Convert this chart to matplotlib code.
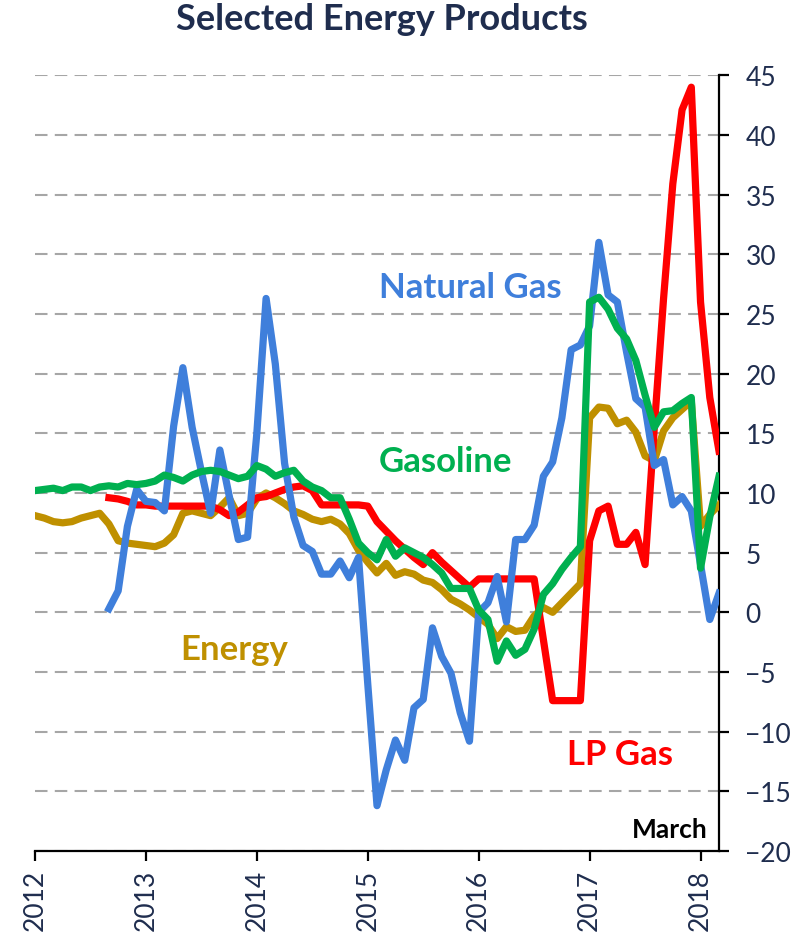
import numpy as np
import matplotlib.pyplot as plt

nan = np.nan

# monthly % change, Jan 2012 .. Mar 2018
years = [2012, 2013, 2014, 2015, 2016, 2017, 2018]

energy = [8.1, 7.9, 7.6, 7.5, 7.6, 7.9, 8.1, 8.3, 7.4, 6.0, 5.8, 5.7,
          5.6, 5.5, 5.8, 6.5, 8.3, 8.5, 8.3, 8.1, 8.8, 9.6, 8.1, 8.3,
          9.5, 10.0, 9.6, 9.1, 8.5, 8.2, 7.8, 7.6, 7.8, 7.4, 6.6, 5.2,
          4.2, 3.3, 4.1, 3.1, 3.4, 3.2, 2.7, 2.5, 1.9, 1.1, 0.7, 0.2,
          -0.4, -1.0, -2.2, -1.2, -1.6, -1.5, -0.3, 0.4, 0.0, 0.8, 1.6, 2.4,
          16.3, 17.2, 17.1, 15.8, 16.1, 15.1, 13.1, 12.7, 15.2, 16.3, 17.0, 17.7,
          7.2, 8.2, 9.0]

gasoline = [10.2, 10.3, 10.4, 10.2, 10.5, 10.5, 10.2, 10.5, 10.6, 10.5, 10.8, 10.7,
            10.8, 11.0, 11.5, 11.3, 11.0, 11.5, 11.8, 11.9, 11.8, 11.5, 11.2, 11.4,
            12.3, 12.0, 11.4, 11.7, 11.9, 11.0, 10.5, 10.2, 9.6, 9.6, 7.8, 5.8,
            5.0, 4.4, 6.1, 4.7, 5.4, 5.0, 4.6, 4.0, 3.3, 2.0, 2.0, 2.0,
            0.2, -0.6, -4.1, -2.4, -3.6, -3.1, -1.4, 1.5, 2.4, 3.6, 4.6, 5.5,
            26.0, 26.4, 25.4, 23.8, 22.9, 21.1, 18.2, 15.5, 16.8, 16.9, 17.5, 18.0,
            3.7, 8.0, 11.4]

natural_gas = [nan, nan, nan, nan, nan, nan, nan, nan, 0.3, 1.8, 7.2, 10.3,
               9.3, 9.2, 8.5, 15.6, 20.5, 15.5, 11.8, 8.3, 13.6, 9.8, 6.1, 6.3,
               15.0, 26.3, 20.8, 12.5, 8.0, 5.6, 5.1, 3.2, 3.2, 4.3, 2.9, 4.6,
               -6.0, -16.2, -13.2, -10.7, -12.4, -8.0, -7.3, -1.3, -3.7, -5.1, -8.4, -10.8,
               0.0, 0.8, 3.0, -0.8, 6.1, 6.1, 7.3, 11.4, 12.6, 16.3, 22.0, 22.4,
               24.0, 31.0, 26.6, 26.0, 21.8, 17.9, 17.2, 12.3, 12.8, 9.0, 9.7, 8.5,
               4.0, -0.6, 1.6]

lp_gas = [nan, nan, nan, nan, nan, nan, nan, nan, 9.6, 9.5, 9.3, 9.0,
          9.0, 8.9, 8.9, 8.9, 8.9, 8.9, 8.9, 8.9, 8.6, 8.1, 8.4, 9.0,
          9.6, 9.7, 10.0, 10.3, 10.5, 10.6, 10.2, 9.0, 9.0, 9.0, 9.0, 9.0,
          8.9, 7.6, 6.8, 6.0, 5.3, 4.6, 4.0, 5.0, 4.2, 3.5, 2.8, 2.1,
          2.8, 2.8, 2.8, 2.8, 2.8, 2.8, 2.8, -2.3, -7.4, -7.4, -7.4, -7.4,
          6.0, 8.5, 8.9, 5.7, 5.7, 6.7, 4.0, 15.5, 26.3, 35.9, 42.1, 44.0,
          26.0, 18.0, 13.5]

months = 2012 + np.arange(len(energy)) / 12.0

navy = '#1F2D4E'
plt.rcParams['font.family'] = ['Lato', 'DejaVu Sans']

fig = plt.figure(figsize=(8.06, 9.37), dpi=100)
ax = fig.add_axes([0.0434, 0.0907, 0.8487, 0.8279])

lw = 5.2
ax.plot(months, energy, color='#BF9000', lw=lw, solid_joinstyle='round', zorder=3)
ax.plot(months, lp_gas, color='#FF0000', lw=lw, solid_joinstyle='round', zorder=4)
ax.plot(months, natural_gas, color='#3F7FDB', lw=lw, solid_joinstyle='round', zorder=5)
ax.plot(months, gasoline, color='#00B050', lw=lw, solid_joinstyle='round', zorder=6)

ax.set_xlim(2012, months[-1])
ax.set_ylim(-20, 45)
ax.set_yticks(np.arange(-20, 46, 5))
ax.set_xticks(years)
ax.set_xticklabels([str(y) for y in years], rotation=90)

ax.yaxis.tick_right()
ax.yaxis.grid(True, color='#A6A6A6', lw=1.5, linestyle=(0, (6, 3.5)))
ax.set_axisbelow(True)

for s in ['top', 'left']:
    ax.spines[s].set_visible(False)
for s in ['bottom', 'right']:
    ax.spines[s].set_linewidth(1.6)
    ax.spines[s].set_color('black')

ax.tick_params(axis='both', direction='out', length=7, width=1.6, colors='black',
               labelcolor=navy, labelsize=19)
ax.tick_params(axis='y', pad=12)
ax.tick_params(axis='x', pad=6)

fig.text(0.474, 0.979, 'Selected Energy Products', ha='center', va='center',
         fontsize=26, fontweight='bold', color=navy)

ax.text(2015.92, 27.3, 'Natural Gas', color='#3F7FDB', fontsize=25, fontweight='bold',
        ha='center', va='center')
ax.text(2015.70, 12.7, 'Gasoline', color='#00B050', fontsize=25, fontweight='bold',
        ha='center', va='center')
ax.text(2013.80, -3.1, 'Energy', color='#BF9000', fontsize=25, fontweight='bold',
        ha='center', va='center')
ax.text(2017.27, -11.9, 'LP Gas', color='#FF0000', fontsize=25, fontweight='bold',
        ha='center', va='center')
ax.text(2018.06, -18.15, 'March', color='black', fontsize=19, fontweight='bold',
        ha='right', va='center')

fig.savefig('out.png', dpi=100)
